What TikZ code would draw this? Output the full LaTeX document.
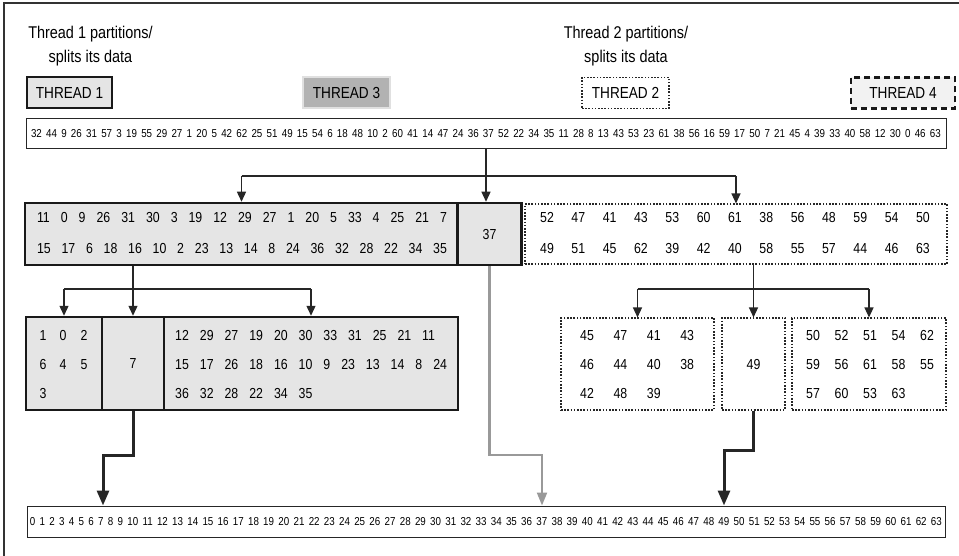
\documentclass[tikz,border=0pt]{standalone}
\usepackage{fontspec}
\setmainfont{Liberation Sans}[FakeStretch=0.85]
\usetikzlibrary{arrows.meta,calc}

\begin{document}
\begin{tikzpicture}[x=1pt,y=-1pt,
    thrlbl/.style={font=\fontsize{17}{24}\selectfont, align=center, inner sep=0pt},
    keybox/.style={minimum height=31pt, inner sep=0pt, font=\fontsize{16}{18}\selectfont},
    t1box/.style={draw=black!90, line width=2.5pt, fill=black!10},
    t2box/.style={draw=black!85, line width=1.1pt, dash pattern=on 1.6pt off 1.6pt, fill=white},
    t3box/.style={draw=black!12, line width=2pt, fill=black!30},
    t4box/.style={draw=black!90, line width=2.6pt, dash pattern=on 6pt off 4pt, fill=black!5},
    arraybox/.style={draw=black!85, line width=1pt, fill=white, minimum height=30pt, inner sep=0pt,
                     font=\fontsize{11.5}{13}\selectfont},
    num/.style={inner sep=0pt, font=\fontsize{14.5}{16}\selectfont, text height=10.4pt, text depth=0pt},
    numrow/.style={num, anchor=west, execute at begin node={\spaceskip=11pt\relax}},
    conn/.style={draw=black!85, line width=1.3pt},
    arr/.style={conn, -{Triangle[length=10pt,width=9pt]}},
    bigarr/.style={draw=black!85, line width=3pt, -{Triangle[length=15pt,width=12pt]}},
    garr/.style={draw=black!40, line width=2.2pt, -{Triangle[length=13pt,width=10pt]}}
  ]
    \useasboundingbox (0,0) rectangle (959,556);

    % frame
    \draw[black!80, line width=1.2pt] (959,3) -- (4,3) -- (4,556);

    % Legend
    \node[thrlbl, anchor=north] (lbl1) at (90.5,26) {Thread 1 partitions/\\splits its data};
    \node[thrlbl, anchor=north] (lbl2) at (626,26) {Thread 2 partitions/\\splits its data};
    \node[keybox, t1box, minimum width=85pt] (key1) at (69.5,92.5) {THREAD 1};
    \node[keybox, t3box, minimum width=87pt] (key3) at (346.5,92.5) {THREAD 3};
    \node[keybox, t2box, minimum width=87pt] (key2) at (625.5,93) {THREAD 2};
    \node[keybox, t4box, minimum width=104pt] (key4) at (903,93) {THREAD 4};

    % Unsorted input
    \node[arraybox, minimum width=920pt] (input) at (486,134)
      {\makebox[910pt][s]{32 44 9 26 31 57 3 19 55 29 27 1 20 5 42 62 25 51 49 15 54 6 18 48 10 2 60 41 14 47 24 36 37 52 22 34 35 11 28 8 13 43 53 23 61 38 56 16 59 17 50 7 21 45 4 39 33 40 58 12 30 0 46 63}};

    % First split around 37
    \node[t1box, minimum width=433pt, minimum height=62pt] (left) at (241.5,234) {};
    \node[t1box, num, minimum width=64pt, minimum height=62pt] (pivot) at (489.5,234) {37};
    \node[t2box, minimum width=422pt, minimum height=60pt] (right) at (736,234) {};

    \node[num] (lrow1) at (242,217) {\makebox[410pt][s]{11 0 9 26 31 30 3 19 12 29 27 1 20 5 33 4 25 21 7}};
    \node[num] (lrow2) at (242,248) {\makebox[410pt][s]{15 17 6 18 16 10 2 23 13 14 8 24 36 32 28 22 34 35}};

    \foreach \row/\y in {{52,47,41,43,53,60,61,38,56,48,59,54,50}/217,
                         {49,51,45,62,39,42,40,58,55,57,44,46,63}/248}
      \foreach \n [count=\i from 0] in \row
        \node[num] (r\n) at ({547+31.33*\i},\y) {\n};

    % Second split, thread 1
    \node[t1box, minimum width=76pt, minimum height=93pt] (lowA) at (64,363.5) {};
    \node[t1box, num, minimum width=62pt, minimum height=93pt] (lowB) at (133,363.5) {7};
    \node[t1box, minimum width=294pt, minimum height=93pt] (lowC) at (311,363.5) {};

    \foreach \n/\cx/\cy in {1/43/335, 0/63/335, 2/84/335, 6/43/364, 4/63/364, 5/84/364, 3/43/393}
      \node[num] (a\n) at (\cx,\cy) {\n};

    \node[numrow] (crow1) at (175,335) {12 29 27 19 20 30 33 31 25 21 11};
    \node[numrow] (crow2) at (175,364) {15 17 26 18 16 10 9 23 13 14 8 24};
    \node[numrow] (crow3) at (175,393) {36 32 28 22 34 35};

    % Second split, thread 2
    \node[t2box, minimum width=153pt, minimum height=92pt] (lowD) at (637.5,364) {};
    \node[t2box, num, minimum width=63pt, minimum height=92pt] (lowE) at (753.5,364) {49};
    \node[t2box, minimum width=154pt, minimum height=92pt] (lowF) at (869,364) {};

    \foreach \row/\y in {{45,47,41,43}/335, {46,44,40,38}/364, {42,48,39}/393}
      \foreach \n [count=\i from 0] in \row
        \node[num] (d\n) at ({587+33.4*\i},\y) {\n};
    \foreach \row/\y in {{50,52,51,54,62}/335, {59,56,61,58,55}/364, {57,60,53,63}/393}
      \foreach \n [count=\i from 0] in \row
        \node[num] (f\n) at ({813+28.5*\i},\y) {\n};

    % Sorted output
    \node[arraybox, minimum width=918pt, minimum height=31pt] (output) at (486,521.5)
      {\makebox[912pt][s]{0 1 2 3 4 5 6 7 8 9 10 11 12 13 14 15 16 17 18 19 20 21 22 23 24 25 26 27 28 29 30 31 32 33 34 35 36 37 38 39 40 41 42 43 44 45 46 47 48 49 50 51 52 53 54 55 56 57 58 59 60 61 62 63}};

    % Connectors
    \coordinate (split1) at (input.south |- 0,176);
    \draw[arr] (input.south) -- (input.south |- pivot.north);
    \draw[conn] (left.north |- split1) -- (right.north |- split1);
    \draw[arr] (left.north |- split1) -- (left.north);
    \draw[arr] (right.north |- split1) -- (right.north);

    \coordinate (split2) at (lowB.north |- 0,289);
    \draw[arr] (left.south -| lowB.north) -- (lowB.north);
    \draw[conn] (lowA.north |- split2) -- (lowC.north |- split2);
    \draw[arr] (lowA.north |- split2) -- (lowA.north);
    \draw[arr] (lowC.north |- split2) -- (lowC.north);

    \coordinate (split3) at (lowE.north |- 0,289);
    \draw[arr] (right.south -| lowE.north) -- (lowE.north);
    \draw[conn] (lowD.north |- split3) -- (lowF.north |- split3);
    \draw[arr] (lowD.north |- split3) -- (lowD.north);
    \draw[arr] (lowF.north |- split3) -- (lowF.north);

    \coordinate (at7) at (output.north -| 103,0);
    \coordinate (at37) at (output.north -| 542,0);
    \coordinate (at49) at (output.north -| 724,0);
    \draw[garr] (pivot.south) -- ++(0,189) -| (at37);
    \draw[bigarr] (lowB.south) -- ++(0,44) -| (at7);
    \draw[bigarr] (lowE.south) -- ++(0,40) -| (at49);
\end{tikzpicture}
\end{document}
